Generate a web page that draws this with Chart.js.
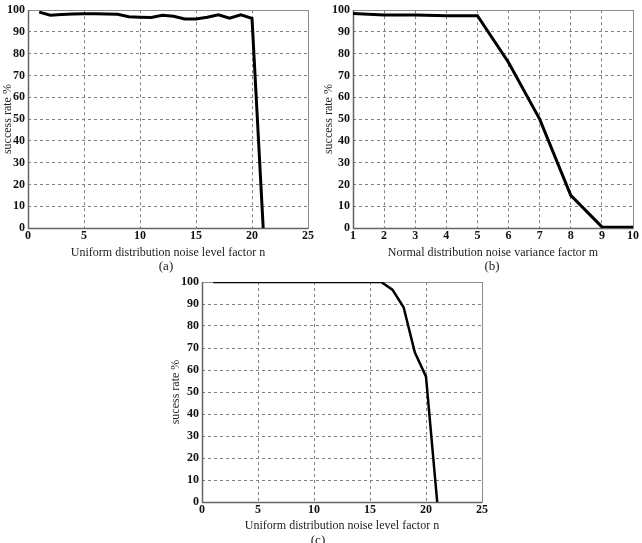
<!DOCTYPE html>
<html><head><meta charset="utf-8">
<script src="https://cdn.jsdelivr.net/npm/chart.js@4/dist/chart.umd.min.js"></script>
<style>
body{margin:0;background:#fff;width:642px;height:543px;overflow:hidden;position:relative;font-family:"Liberation Serif",serif;}
.c{position:absolute;}
.c canvas{display:block;}
.lbl{position:absolute;font-size:13px;color:#222;transform:translateX(-50%);line-height:14px;white-space:nowrap;}
</style></head><body>
<div class="c" style="left:0;top:0;"><canvas id="ca" width="320" height="262"></canvas></div>
<div class="c" style="left:320px;top:0;"><canvas id="cb" width="322" height="262"></canvas></div>
<div class="c" style="left:150px;top:262px;"><canvas id="cc" width="340" height="281"></canvas></div>
<div class="lbl" style="left:166px;top:259px;">(a)</div>
<div class="lbl" style="left:492px;top:259px;">(b)</div>
<div class="lbl" style="left:318px;top:533px;">(c)</div>
<script>
// ---- data ----
const nA = [1,2,3,4,5,6,7,8,9,10,11,12,13,14,15,16,17,18,19,20,21];
const rateA = [99.1,97.7,98.0,98.3,98.4,98.4,98.2,98.1,97.0,96.8,96.7,97.7,97.2,96.0,96.0,96.8,97.9,96.3,97.9,96.3,0];
const mB = [1,2,3,4,5,6,7,8,9,10];
const rateB = [98.5,97.8,97.8,97.5,97.5,76,50,15,0.5,0.3];
const nC = [1,2,3,4,5,6,7,8,9,10,11,12,13,14,15,16,17,18,19,20,21];
const rateC = [100,100,100,100,100,100,100,100,100,100,100,100,100,100,100,100,96.5,88.5,68,57,0];
const xTitleA = "Uniform distribution noise level factor n";
const xTitleB = "Normal distribution noise variance factor m";
const xTitleC = "Uniform distribution noise level factor n";
const yTitleA = "success rate %";
const yTitleB = "success rate %";
const yTitleC = "sucess rate %";

const FAM = "'Liberation Serif', 'Times New Roman', serif";

const boxPlugin = {
  id: 'box',
  beforeDatasetsDraw(chart) {
    const a = chart.chartArea, ctx = chart.ctx;
    ctx.save();
    ctx.strokeStyle = '#8c8c8c';
    ctx.lineWidth = 1;
    ctx.strokeRect(Math.round(a.left)+0.5, Math.round(a.top)+0.5, Math.round(a.right-a.left), Math.round(a.bottom-a.top));
    ctx.strokeStyle = '#666';
    ctx.lineWidth = 1.5;
    ctx.beginPath();
    ctx.moveTo(Math.round(a.left)+0.5, Math.round(a.top));
    ctx.lineTo(Math.round(a.left)+0.5, Math.round(a.bottom)+0.5);
    ctx.lineTo(Math.round(a.right), Math.round(a.bottom)+0.5);
    ctx.stroke();
    ctx.restore();
  }
};

function gridColor(c) {
  const s = c.scale;
  if (!c.tick) return 'rgba(0,0,0,0)';
  if (c.tick.value === s.min || c.tick.value === s.max) return 'rgba(0,0,0,0)';
  return '#808080';
}

function make(id, xs, ys, cfg) {
  const pts = xs.map((x, i) => ({x: x, y: ys[i]}));
  new Chart(document.getElementById(id), {
    type: 'line',
    data: { datasets: [{ data: pts, borderColor: '#000', borderWidth: cfg.lw, pointRadius: 0, tension: 0, fill: false }] },
    plugins: [boxPlugin],
    options: {
      responsive: false, animation: false, devicePixelRatio: 1,
      layout: { padding: cfg.pad },
      plugins: { legend: { display: false }, tooltip: { enabled: false } },
      scales: {
        x: {
          type: 'linear', min: cfg.xmin, max: cfg.xmax,
          afterBuildTicks: s => { s.ticks = cfg.xticks.map(v => ({value: v})); },
          ticks: { font: { family: FAM, weight: 'bold', size: 12 }, color: '#111', padding: 1, maxRotation: 0, autoSkip: false },
          grid: { color: gridColor, lineWidth: 1, drawTicks: false },
          border: { display: false, dash: [3, 3] },
          title: { display: true, text: cfg.xTitle, font: { family: FAM, size: 12, lineHeight: 1.2 }, color: '#222', padding: { top: 0, bottom: cfg.xtb } },
          afterFit: s => { s.height = cfg.xh; }
        },
        y: {
          min: 0, max: 100,
          afterBuildTicks: s => { s.ticks = cfg.yticks.map(v => ({value: v})); },
          ticks: { font: { family: FAM, weight: 'bold', size: 12 }, color: '#111', padding: 3, autoSkip: false },
          grid: { color: gridColor, lineWidth: 1, drawTicks: false },
          border: { display: false, dash: [3, 3] },
          title: { display: true, text: cfg.yTitle, font: { family: FAM, size: 12, lineHeight: 1.2 }, color: '#222', padding: { top: cfg.ytp, bottom: 0 } },
          afterFit: s => { s.width = cfg.yw; }
        }
      }
    }
  });
}

const yTicks = [0,10,20,30,40,50,60,70,80,90,100];
const xTicks25 = [0,5,10,15,20,25];
const xTicks10 = [1,2,3,4,5,6,7,8,9,10];

make('ca', nA, rateA, { lw: 3, pad: {left:0, top:6, right:12, bottom:0}, xmin:0, xmax:25, xticks:xTicks25, yticks:yTicks, xTitle:xTitleA, yTitle:yTitleA, xh:34, yw:28, xtb:2, ytp:1 });
make('cb', mB, rateB, { lw: 3, pad: {left:0, top:6, right:9, bottom:0}, xmin:1, xmax:10, xticks:xTicks10, yticks:yTicks, xTitle:xTitleB, yTitle:yTitleB, xh:34, yw:33, xtb:2, ytp:2 });
make('cc', nC, rateC, { lw: 2.5, pad: {left:0, top:20, right:8, bottom:0}, xmin:0, xmax:25, xticks:xTicks25, yticks:yTicks, xTitle:xTitleC, yTitle:yTitleC, xh:41, yw:52, xtb:10, ytp:19 });
</script>
</body></html>
